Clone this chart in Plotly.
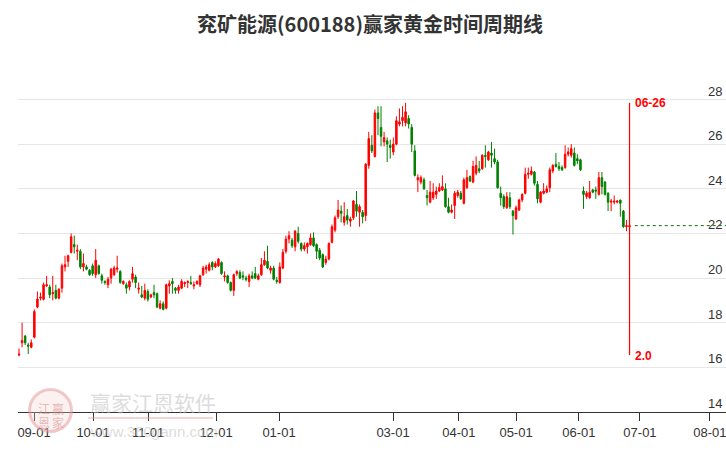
import plotly.graph_objects as go

# ---------------- data ----------------
title_text = "兖矿能源(600188)赢家黄金时间周期线"

opens = [16.55, 17.1, 17.4, 17.0, 16.9, 17.35, 18.7, 19.1, 19.05, 19.65,
         19.6, 19.3, 19.45, 19.1, 19.55, 20.5, 20.75, 21.15, 21.5, 21.2,
         21.2, 20.5, 20.5, 20.35, 20.55, 20.15, 20.55, 20.1, 19.85, 19.7,
         20.0, 20.15, 20.4, 20.3, 19.75, 19.7, 19.6, 19.95, 20.05, 19.5,
         19.25, 19.1, 19.4, 19.15, 19.35, 19.3, 18.65, 18.85, 18.65, 19.65,
         19.85, 19.55, 19.45, 19.55, 19.75, 19.8, 19.8, 19.65, 19.75, 19.7,
         20.15, 20.4, 20.35, 20.7, 20.5, 20.55, 20.7, 20.05, 20.1, 19.8,
         19.45, 20.2, 20.25, 20.1, 20.0, 19.85, 20.1, 20.2, 19.95, 20.15,
         20.6, 20.75, 20.35, 20.45, 19.9, 19.8, 20.45, 21.2, 21.75, 21.7,
         21.4, 22.0, 21.55, 21.3, 21.4, 21.5, 21.8, 21.5, 21.25, 21.05,
         20.7, 20.85, 21.6, 22.15, 22.75, 23.0, 22.5, 22.8, 22.55, 22.7,
         23.3, 22.95, 22.95, 22.8, 25.05, 25.95, 25.45, 27.4, 26.75, 26.1,
         26.15, 25.95, 25.65, 26.0, 26.9, 27.05, 26.95, 27.15, 26.75, 25.7,
         24.4, 24.3, 24.4, 23.7, 23.4, 23.6, 23.75, 23.9, 23.95, 24.0,
         23.2, 22.95, 23.25, 23.7, 23.8, 23.35, 24.05, 24.55, 24.3, 24.7,
         24.9, 24.9, 25.5, 25.3, 25.6, 25.35, 25.2, 23.8, 23.65, 23.15,
         23.6, 23.0, 22.65, 23.05, 23.5, 23.8, 24.65, 24.65, 24.75, 24.2,
         23.4, 23.8, 23.85, 24.05, 24.8, 25.1, 25.0, 24.95, 24.95, 25.55,
         25.5, 25.6, 25.35, 25.3, 23.9, 23.65, 23.6, 23.95, 23.95, 23.75,
         24.5, 24.3, 23.8, 23.4, 23.4, 23.4, 23.5, 23.0, 22.3, 22.3]

highs = [16.85, 18.0, 17.45, 17.1, 17.25, 18.6, 19.4, 19.35, 19.8, 20.1,
         19.7, 20.1, 19.7, 19.55, 20.65, 21.0, 21.05, 22.0, 21.9, 21.5,
         21.3, 21.1, 20.6, 20.4, 20.65, 21.3, 20.6, 20.2, 19.9, 20.05,
         20.45, 20.55, 21.0, 20.35, 19.9, 19.8, 19.9, 20.5, 20.15, 19.8,
         19.65, 19.75, 19.5, 19.3, 19.7, 19.35, 19.0, 18.95, 19.75, 19.9,
         20.0, 19.6, 19.7, 19.95, 19.85, 19.9, 20.1, 19.85, 19.9, 20.15,
         20.55, 20.6, 20.7, 20.75, 20.75, 20.9, 20.75, 20.3, 20.15, 19.85,
         20.2, 20.35, 20.35, 20.3, 20.1, 20.2, 20.3, 20.5, 20.2, 20.9,
         21.2, 21.45, 20.55, 20.55, 20.05, 20.7, 21.3, 21.9, 22.1, 21.8,
         22.15, 22.3, 21.6, 21.6, 21.6, 22.0, 22.05, 21.55, 21.35, 21.1,
         21.0, 21.6, 22.4, 22.8, 23.5, 23.25, 23.4, 23.1, 22.75, 23.5,
         23.9, 23.3, 23.05, 25.15, 26.55, 26.4, 27.55, 27.7, 27.7, 26.55,
         26.3, 26.2, 26.3, 27.25, 27.6, 27.7, 27.85, 27.3, 26.9, 25.95,
         24.65, 24.6, 24.5, 23.95, 24.35, 24.25, 24.1, 24.25, 24.6, 24.25,
         23.6, 23.3, 23.9, 23.95, 23.9, 24.5, 24.85, 24.6, 25.25, 25.45,
         25.25, 25.55, 25.95, 25.7, 26.1, 25.8, 25.3, 24.1, 23.75, 23.85,
         23.85, 23.05, 23.25, 23.55, 23.8, 24.95, 24.95, 25.0, 24.8, 24.35,
         23.9, 24.25, 24.15, 24.95, 25.1, 25.6, 25.2, 25.05, 25.95, 25.85,
         26.0, 25.85, 25.55, 25.35, 24.1, 23.9, 24.35, 24.0, 24.1, 24.75,
         24.75, 24.35, 23.85, 23.55, 23.7, 23.5, 23.5, 23.05, 22.6, 22.55]

lows = [16.5, 16.9, 17.0, 16.6, 16.85, 17.3, 18.65, 19.0, 19.0, 19.6,
        19.1, 19.0, 19.05, 19.05, 19.35, 20.3, 20.5, 21.1, 21.1, 20.8,
        20.4, 20.3, 20.35, 20.1, 20.1, 20.0, 20.15, 19.75, 19.7, 19.55,
        19.75, 20.1, 20.25, 19.75, 19.7, 19.3, 19.45, 19.8, 19.55, 19.3,
        19.1, 19.0, 18.95, 19.1, 19.1, 18.65, 18.6, 18.55, 18.6, 19.3,
        19.3, 19.3, 19.3, 19.5, 19.6, 19.55, 19.7, 19.5, 19.7, 19.6,
        20.1, 20.2, 20.3, 20.35, 20.45, 20.5, 20.15, 19.85, 19.75, 19.4,
        19.2, 20.1, 19.95, 19.9, 19.85, 19.6, 19.95, 19.95, 19.9, 20.1,
        20.55, 20.4, 20.2, 19.9, 19.75, 19.75, 20.4, 21.1, 21.55, 21.35,
        21.2, 21.55, 21.2, 21.2, 21.1, 21.45, 21.4, 20.85, 20.8, 20.45,
        20.6, 20.8, 21.55, 22.05, 22.65, 22.5, 22.35, 22.4, 22.3, 22.6,
        22.75, 22.3, 22.45, 22.55, 24.9, 25.6, 25.4, 26.4, 25.9, 25.9,
        25.2, 25.35, 25.5, 25.95, 26.8, 26.8, 26.8, 26.7, 25.65, 24.55,
        23.85, 24.2, 23.95, 23.25, 23.35, 23.5, 23.55, 23.85, 23.9, 23.15,
        22.9, 22.9, 22.65, 23.6, 23.5, 23.3, 24.0, 24.3, 24.25, 24.6,
        24.7, 24.85, 24.95, 25.25, 24.95, 25.1, 24.0, 23.25, 23.1, 23.1,
        23.1, 21.95, 22.6, 23.0, 23.4, 23.75, 24.45, 24.6, 24.15, 23.35,
        23.35, 23.75, 23.8, 23.85, 24.7, 24.95, 24.8, 24.8, 24.9, 25.45,
        25.4, 25.0, 25.1, 24.8, 23.1, 23.55, 23.55, 23.8, 23.55, 23.7,
        23.75, 23.7, 23.0, 23.0, 23.3, 23.35, 22.75, 22.25, 22.1, 22.1]

closes = [16.6, 17.2, 17.1, 16.95, 17.1, 18.5, 19.06, 19.15, 19.7, 19.7,
          19.25, 19.35, 19.1, 19.5, 20.55, 20.6, 21.0, 21.85, 21.4, 21.25,
          20.5, 20.65, 20.4, 20.15, 20.2, 20.8, 20.2, 19.9, 19.8, 19.95,
          20.4, 20.45, 20.45, 19.8, 19.85, 19.55, 19.85, 20.2, 19.8, 19.55,
          19.15, 19.45, 19.05, 19.25, 19.25, 18.7, 18.85, 18.6, 19.7, 19.75,
          19.75, 19.45, 19.6, 19.85, 19.8, 19.85, 19.75, 19.7, 19.85, 20.1,
          20.45, 20.5, 20.6, 20.5, 20.65, 20.85, 20.2, 20.1, 19.8, 19.45,
          20.15, 20.3, 20.0, 20.05, 19.95, 20.1, 20.0, 20.0, 20.1, 20.6,
          20.8, 20.45, 20.45, 19.95, 19.85, 20.5, 21.15, 21.75, 21.9, 21.45,
          22.1, 21.65, 21.3, 21.45, 21.55, 21.8, 21.45, 21.2, 20.9, 20.5,
          20.85, 21.55, 22.3, 22.7, 23.05, 22.9, 22.75, 22.6, 22.65, 23.45,
          23.0, 23.2, 22.75, 25.1, 26.25, 25.7, 27.4, 27.15, 26.35, 26.3,
          26.0, 25.85, 26.0, 27.05, 27.0, 27.2, 27.45, 26.9, 26.0, 24.6,
          24.5, 24.5, 24.0, 23.6, 23.85, 23.85, 23.9, 24.05, 24.1, 23.2,
          22.95, 23.05, 23.8, 23.85, 23.55, 24.4, 24.5, 24.35, 25.0, 25.05,
          24.8, 25.5, 25.45, 25.65, 25.5, 25.2, 24.05, 23.6, 23.2, 23.65,
          23.2, 22.8, 23.15, 23.5, 23.75, 24.65, 24.7, 24.8, 24.25, 23.55,
          23.85, 23.9, 24.0, 24.85, 25.05, 25.0, 24.9, 24.85, 25.55, 25.65,
          25.8, 25.05, 25.25, 24.85, 23.75, 23.8, 23.85, 23.85, 23.9, 24.5,
          24.1, 23.75, 23.4, 23.45, 23.45, 23.45, 23.35, 22.3, 22.35, 22.35]

month_labels = ["09-01", "10-01", "11-01", "12-01", "01-01", "03-01",
                "04-01", "05-01", "06-01", "07-01", "08-01"]
cycle_date_label = "06-26"
cycle_value_label = "2.0"
cycle_line_low = 16.55
cycle_line_high = 27.85
y_ticks = [14, 16, 18, 20, 22, 24, 26, 28]

# ---------------- layout helpers ----------------
n = len(opens)
xs = list(range(n))
# tick positions (trading-day index of each month start as placed on the axis)
month_tick_pos = [4.89, 24.12, 42.05, 64.21, 84.75, 121.9, 143.4, 162.0, 182.5, 202.4, 225.2]
x_range = [-0.33, 230.44]
last_idx = n - 1
last_close = closes[-1]

RED = "#ff0000"
GREEN = "#008000"
AXIS = "#333333"

fig = go.Figure()
fig.add_trace(go.Candlestick(
    x=xs, open=opens, high=highs, low=lows, close=closes,
    increasing=dict(line=dict(color=RED, width=1), fillcolor=RED),
    decreasing=dict(line=dict(color=GREEN, width=1), fillcolor=GREEN),
    whiskerwidth=0, hoverinfo="skip", showlegend=False,
))

# cycle line
fig.add_shape(type="line", xref="x", yref="y", x0=last_idx, x1=last_idx,
              y0=cycle_line_low, y1=cycle_line_high,
              line=dict(color=RED, width=1.2))
# last-close dotted line
fig.add_shape(type="line", xref="x", yref="y", x0=last_idx + 1.7, x1=x_range[1],
              y0=last_close, y1=last_close,
              line=dict(color="#0f6e0f", width=1, dash="dot"))

fig.add_annotation(x=last_idx, y=cycle_line_high - 0.01, xref="x", yref="y",
                   text="<b>%s</b>" % cycle_date_label, showarrow=False,
                   xanchor="left", yanchor="middle", xshift=3,
                   font=dict(color=RED, size=12, family="Liberation Sans, Arial"))
fig.add_annotation(x=last_idx, y=cycle_line_low - 0.06, xref="x", yref="y",
                   text="<b>%s</b>" % cycle_value_label, showarrow=False,
                   xanchor="left", yanchor="middle", xshift=3,
                   font=dict(color=RED, size=12, family="Liberation Sans, Arial"))

# right-side value labels, sitting just above each gridline inside the plot
for v in y_ticks:
    fig.add_annotation(x=1, y=v, xref="paper", yref="y", text=str(v),
                       showarrow=False, xanchor="right", yanchor="bottom",
                       xshift=-2, yshift=-1,
                       font=dict(size=13, color=AXIS, family="Liberation Sans, Arial"))

# ---------------- watermark ----------------
W, L, PB, PH, PW = 726, 18, 412, 356, 708
def px(x):
    return (x - L) / PW
def py(y):
    return (PB - y) / PH

fig.add_shape(type="circle", xref="paper", yref="paper",
              x0=px(29.5), x1=px(71.5), y0=py(431.5), y1=py(389.5),
              line=dict(color="rgba(228,150,150,0.5)", width=3),
              fillcolor="rgba(245,210,210,0.3)")
for ch, cx, cy in [("江", 43.5, 408.5), ("赢", 57.5, 408.5),
                   ("恩", 43.5, 422), ("家", 57.5, 422)]:
    fig.add_annotation(x=px(cx), y=py(cy), xref="paper", yref="paper",
                       text=ch, showarrow=False, xanchor="center", yanchor="middle",
                       font=dict(size=12, color="rgba(215,130,130,0.55)",
                                 family="Noto Sans CJK SC"))
fig.add_annotation(x=px(88), y=py(402), xref="paper", yref="paper",
                   text="赢家江恩软件", showarrow=False, xanchor="left", yanchor="middle",
                   font=dict(size=21, color="rgba(190,190,190,0.55)",
                             family="Noto Sans CJK SC"))
fig.add_shape(type="line", xref="paper", yref="paper",
              x0=px(88), x1=px(213), y0=py(418), y1=py(418),
              line=dict(color="rgba(225,160,160,0.45)", width=2))
fig.add_annotation(x=px(88), y=py(431), xref="paper", yref="paper",
                   text="www.360gann.com", showarrow=False, xanchor="left", yanchor="middle",
                   font=dict(size=15, color="rgba(190,190,190,0.55)",
                             family="Liberation Sans, Arial"))

fig.update_layout(
    width=726, height=450,
    margin=dict(l=18, r=0, t=56, b=38),
    paper_bgcolor="white", plot_bgcolor="white",
    title=dict(text="<b>%s</b>" % title_text, x=370 / 726, xref="container",
               xanchor="center", y=1 - 25 / 450, yref="container", yanchor="middle",
               font=dict(size=20, color="#333333", family="Noto Sans CJK SC")),
    showlegend=False,
    hovermode=False,
    xaxis=dict(
        range=x_range, rangeslider=dict(visible=False),
        tickmode="array", tickvals=month_tick_pos, ticktext=month_labels,
        ticklabeloverflow="allow",
        showgrid=False, zeroline=False,
        showline=True, linecolor=AXIS, linewidth=1,
        ticks="outside", ticklen=8, tickcolor=AXIS, tickwidth=1,
        tickfont=dict(size=13, color=AXIS, family="Liberation Sans, Arial"),
    ),
    yaxis=dict(
        range=[14, 29.95], side="right",
        tickmode="array", tickvals=y_ticks, showticklabels=False,
        showgrid=True, gridcolor="#e6e6e6", gridwidth=1,
        zeroline=False, showline=False, ticks="",
    ),
)

fig.write_html("out.html", config={"displayModeBar": False},
               post_script="document.body.style.margin='0';document.body.style.overflow='hidden';")
